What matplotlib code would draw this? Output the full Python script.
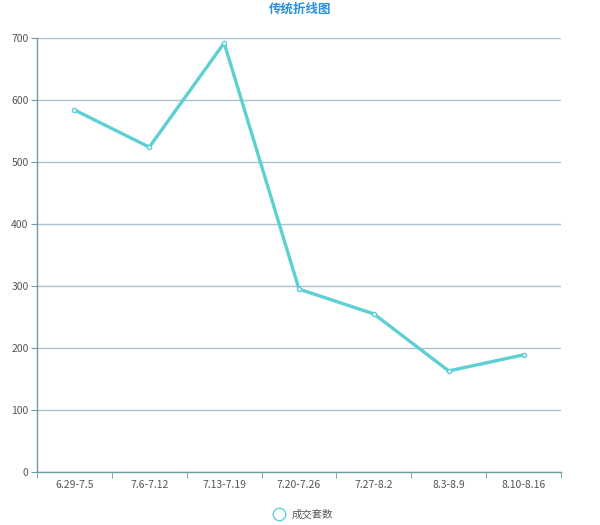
import matplotlib
matplotlib.use("Agg")
import matplotlib.pyplot as plt
from matplotlib.lines import Line2D

plt.rcParams['font.family'] = ['Noto Sans CJK SC', 'DejaVu Sans']

categories = ["6.29-7.5", "7.6-7.12", "7.13-7.19", "7.20-7.26", "7.27-8.2", "8.3-8.9", "8.10-8.16"]
values = [584, 524, 692, 295, 255, 163, 189]
series_name = "成交套数"
title = "传统折线图"

line_color = "#5dd0d3"
grid_color = "#a9c2cc"
axis_color = "#6f9aa6"

fig = plt.figure(figsize=(6, 5.25), dpi=100)
ax = fig.add_axes([37/600, 53/525, 524/600, 434/525])

x = list(range(len(categories)))
ax.plot(x, values, color=line_color, lw=2.4, marker='o', ms=3,
        mfc='white', mec=line_color, mew=1, zorder=3)

ax.set_xlim(-0.5, len(categories) - 0.5)
ax.set_ylim(0, 700)
ax.set_yticks(range(0, 701, 100))
ax.set_xticks(x)
ax.set_xticklabels(categories)
ax.xaxis.set_minor_locator(matplotlib.ticker.FixedLocator([i + 0.5 for i in range(-1, len(categories))]))
ax.tick_params(axis='x', which='major', length=0, pad=6, labelsize=7.5, labelcolor='#555555')
ax.tick_params(axis='x', which='minor', length=4, color=axis_color)
ax.tick_params(axis='y', length=4, color=axis_color, labelsize=7.5, labelcolor='#555555', pad=2)

ax.grid(axis='y', color=grid_color, lw=1)
ax.set_axisbelow(True)
for s in ['top', 'right']:
    ax.spines[s].set_visible(False)
for s in ['left', 'bottom']:
    ax.spines[s].set_color(axis_color)
    ax.spines[s].set_linewidth(1)

fig.text(0.5, 1 - 9/525, title, ha='center', va='center', fontsize=9,
         fontweight='bold', color='#2b90d9')

handle = Line2D([], [], color='none', marker='o', ms=9, mfc='white', mec=line_color, mew=1)
fig.legend([handle], [series_name], loc='center', bbox_to_anchor=(0.505, 1 - 515/525),
           frameon=False, fontsize=7.5, labelcolor='#555555', handletextpad=0.6, handlelength=1.2)

fig.savefig("out.png", dpi=100)
